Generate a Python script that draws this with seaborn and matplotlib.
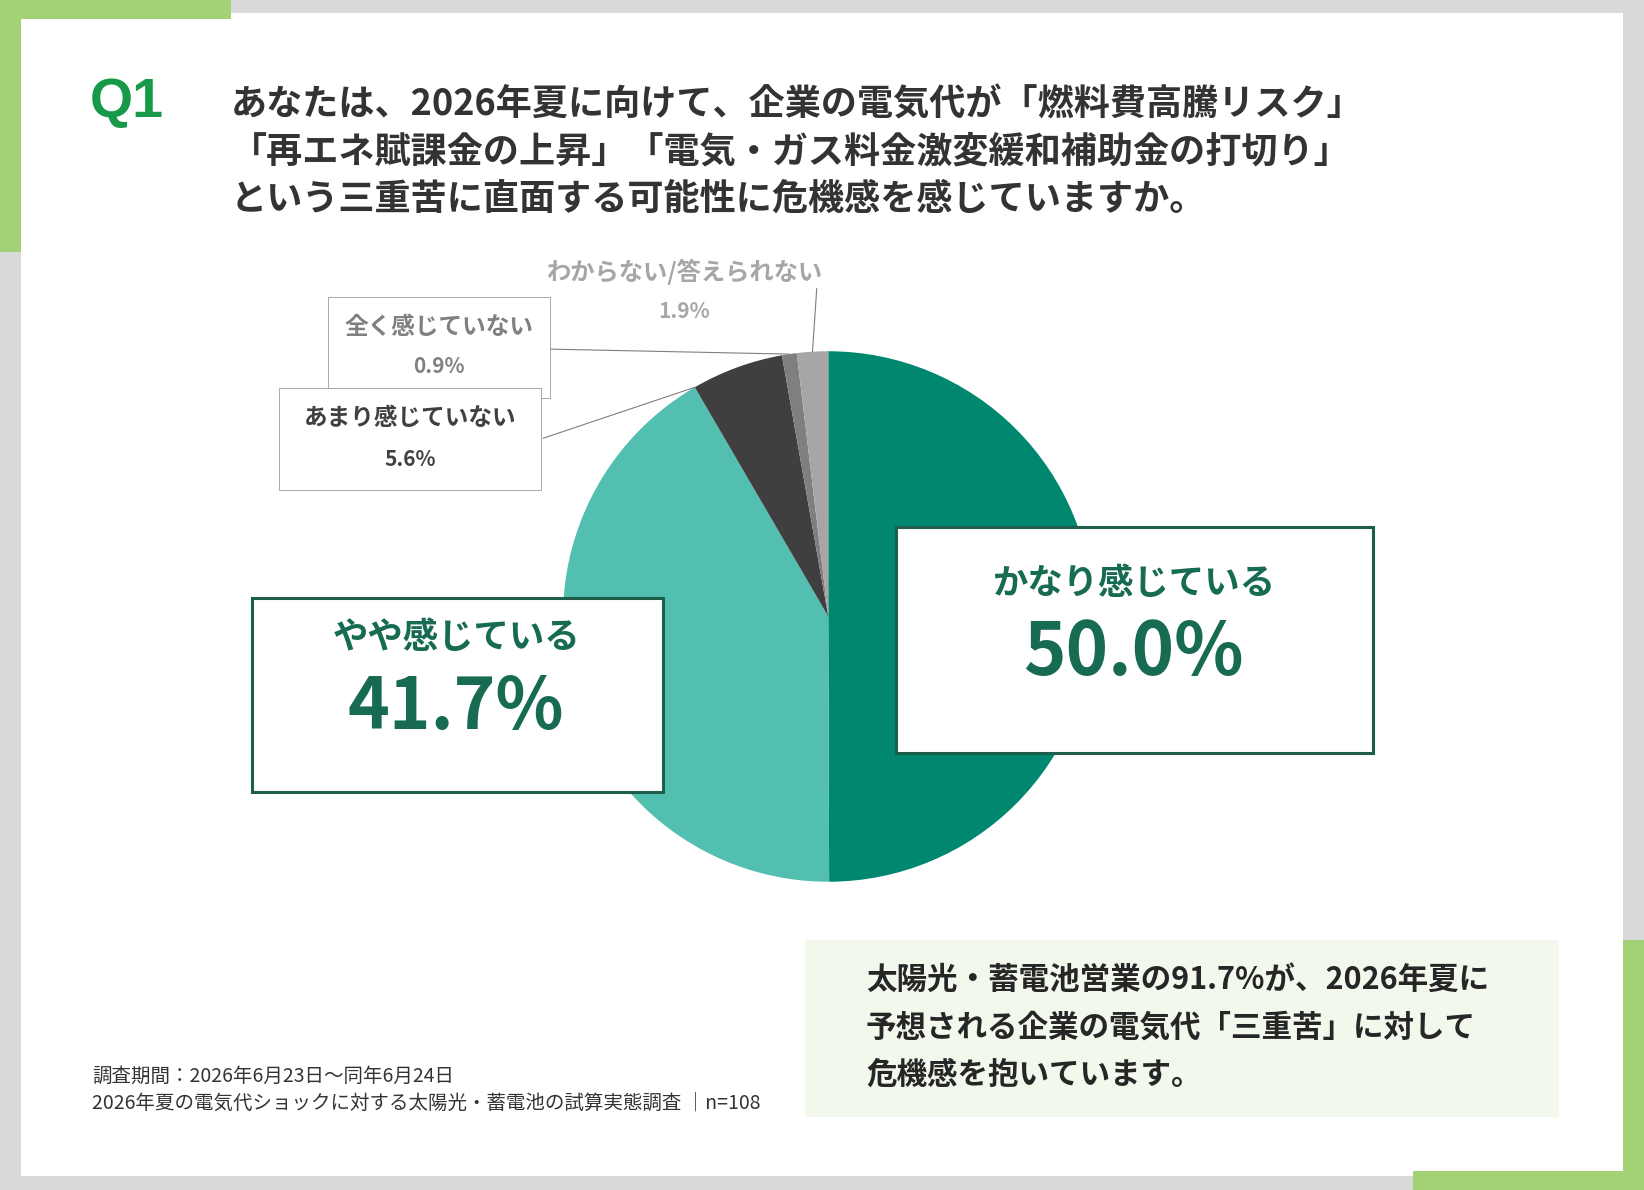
import numpy as np
import matplotlib.pyplot as plt
import matplotlib.patches as patches
import seaborn as sns

sns.set_theme(style='white')
plt.rcParams['font.family'] = ['Noto Sans CJK JP', 'DejaVu Sans']

# data
labels = ['かなり感じている', 'やや感じている', 'あまり感じていない', '全く感じていない', 'わからない/答えられない']
values = [50.0, 41.7, 5.6, 0.9, 1.9]
colors = ['#00876f', '#52bfb0', '#3f3f3f', '#7f7f7f', '#a6a6a6']

title_lines = ['あなたは、2026年夏に向けて、企業の電気代が「燃料費高騰リスク」',
               '「再エネ賦課金の上昇」「電気・ガス料金激変緩和補助金の打切り」',
               'という三重苦に直面する可能性に危機感を感じていますか。']
summary_lines = ['太陽光・蓄電池営業の91.7%が、2026年夏に',
                 '予想される企業の電気代「三重苦」に対して',
                 '危機感を抱いています。']
footer_lines = ['調査期間：2026年6月23日～同年6月24日',
                '2026年夏の電気代ショックに対する太陽光・蓄電池の試算実態調査 │n=108']

W, H = 1568, 1135  # layout units (reference px)
fig = plt.figure(figsize=(16.44, 11.9), dpi=100)
fig.patch.set_facecolor('#d9d9d9')


def fx(x):
    return x / W


def fy(y):
    return 1 - y / H


def rect(x0, y0, x1, y1, **kw):
    fig.add_artist(patches.Rectangle((fx(x0), fy(y1)), fx(x1) - fx(x0), fy(y0) - fy(y1),
                                     transform=fig.transFigure, **kw))


# frame
rect(20, 12, 1548, 1122, facecolor='white', edgecolor='none', zorder=0)
rect(0, 0, 220, 18, facecolor='#a3d276', edgecolor='none', zorder=1)
rect(0, 0, 20, 240, facecolor='#a3d276', edgecolor='none', zorder=1)
rect(1548, 897, 1568, 1135, facecolor='#a3d276', edgecolor='none', zorder=1)
rect(1348, 1117, 1568, 1135, facecolor='#a3d276', edgecolor='none', zorder=1)

# title
fig.text(fx(86), fy(98), 'Q1', color='#17994a', fontsize=40, fontweight='bold',
         family=['Liberation Sans'], va='center', ha='left')
for i, line in enumerate(title_lines):
    fig.text(fx(220), fy(100 + 45 * i), line, color='#333333', fontsize=26,
             fontweight='bold', va='center', ha='left')

# pie
cx, cy, r = 790, 588, 253
ax = fig.add_axes([fx(cx - r), fy(cy + r), fx(2 * r), fy(cy - r) - fy(cy + r)])
wedges, _ = ax.pie(values, colors=colors, startangle=90, counterclock=False, radius=1,
                   wedgeprops=dict(linewidth=0))
ax.set_xlim(-1, 1)
ax.set_ylim(-1, 1)
ax.set_aspect('equal')
ax.axis('off')

# big boxes
box_col = '#1d5e4a'
txt_col = '#176b53'
rect(855, 503, 1310, 718, facecolor='white', edgecolor=box_col, linewidth=2.2, zorder=5)
fig.text(fx(1081), fy(557), labels[0], color=txt_col, fontsize=25.5, fontweight='bold',
         ha='center', va='center', zorder=6)
fig.text(fx(1081), fy(624), f'{values[0]:.1f}%', color=txt_col, fontsize=52,
         fontweight='bold', ha='center', va='center', zorder=6)

rect(240, 570, 632, 755, facecolor='white', edgecolor=box_col, linewidth=2.2, zorder=5)
fig.text(fx(435), fy(608), labels[1], color=txt_col, fontsize=25.5, fontweight='bold',
         ha='center', va='center', zorder=6)
fig.text(fx(435), fy(675), f'{values[1]:.1f}%', color=txt_col, fontsize=51,
         fontweight='bold', ha='center', va='center', zorder=6)

# small labels
rect(313, 283, 525, 380, facecolor='white', edgecolor='#9a9a9a', linewidth=0.6, zorder=3)
fig.text(fx(419), fy(312), labels[3], color='#808080', fontsize=17, fontweight='bold',
         ha='center', va='center', zorder=4)
fig.text(fx(419), fy(350), f'{values[3]:.1f}%', color='#808080', fontsize=15,
         fontweight='bold', ha='center', va='center', zorder=4)

rect(266, 370, 516, 467, facecolor='white', edgecolor='#9a9a9a', linewidth=0.6, zorder=5)
fig.text(fx(391), fy(399), labels[2], color='#404040', fontsize=17, fontweight='bold',
         ha='center', va='center', zorder=6)
fig.text(fx(391), fy(438), f'{values[2]:.1f}%', color='#404040', fontsize=15,
         fontweight='bold', ha='center', va='center', zorder=6)

fig.text(fx(652), fy(259), labels[4], color='#a6a6a6', fontsize=17.5, fontweight='bold',
         ha='center', va='center', zorder=4)
fig.text(fx(652), fy(297), f'{values[4]:.1f}%', color='#a6a6a6', fontsize=15,
         fontweight='bold', ha='center', va='center', zorder=4)

# leader lines to wedges
def edge_point(angle_deg):
    a = np.deg2rad(angle_deg)
    return np.cos(a), np.sin(a)


w_amari, w_mattaku, w_wakaranai = wedges[2], wedges[3], wedges[4]
targets = [
    (edge_point(max(w_amari.theta1, w_amari.theta2)), (518, 418)),
    (edge_point((w_mattaku.theta1 + w_mattaku.theta2) / 2), (525, 333)),
    (edge_point((w_wakaranai.theta1 + w_wakaranai.theta2) / 2), (779, 275)),
]
for xy, (tx, ty) in targets:
    ax.annotate('', xy=xy, xycoords='data', xytext=(fx(tx), fy(ty)),
                textcoords='figure fraction',
                arrowprops=dict(arrowstyle='-', color='#7f7f7f', lw=0.8,
                                shrinkA=0, shrinkB=0), annotation_clip=False)

# summary box
rect(768, 897, 1487, 1065, facecolor='#f2f8ec', edgecolor='none', zorder=1)
for i, line in enumerate(summary_lines):
    fig.text(fx(826), fy(935 + 45 * i), line, color='#262626', fontsize=22,
             fontweight='bold', ha='left', va='center')

# footer
for i, line in enumerate(footer_lines):
    fig.text(fx(88), fy(1027 + 25 * i), line, color='#333333', fontsize=14,
             ha='left', va='center')

fig.savefig('out.png', dpi=100, facecolor=fig.get_facecolor())
